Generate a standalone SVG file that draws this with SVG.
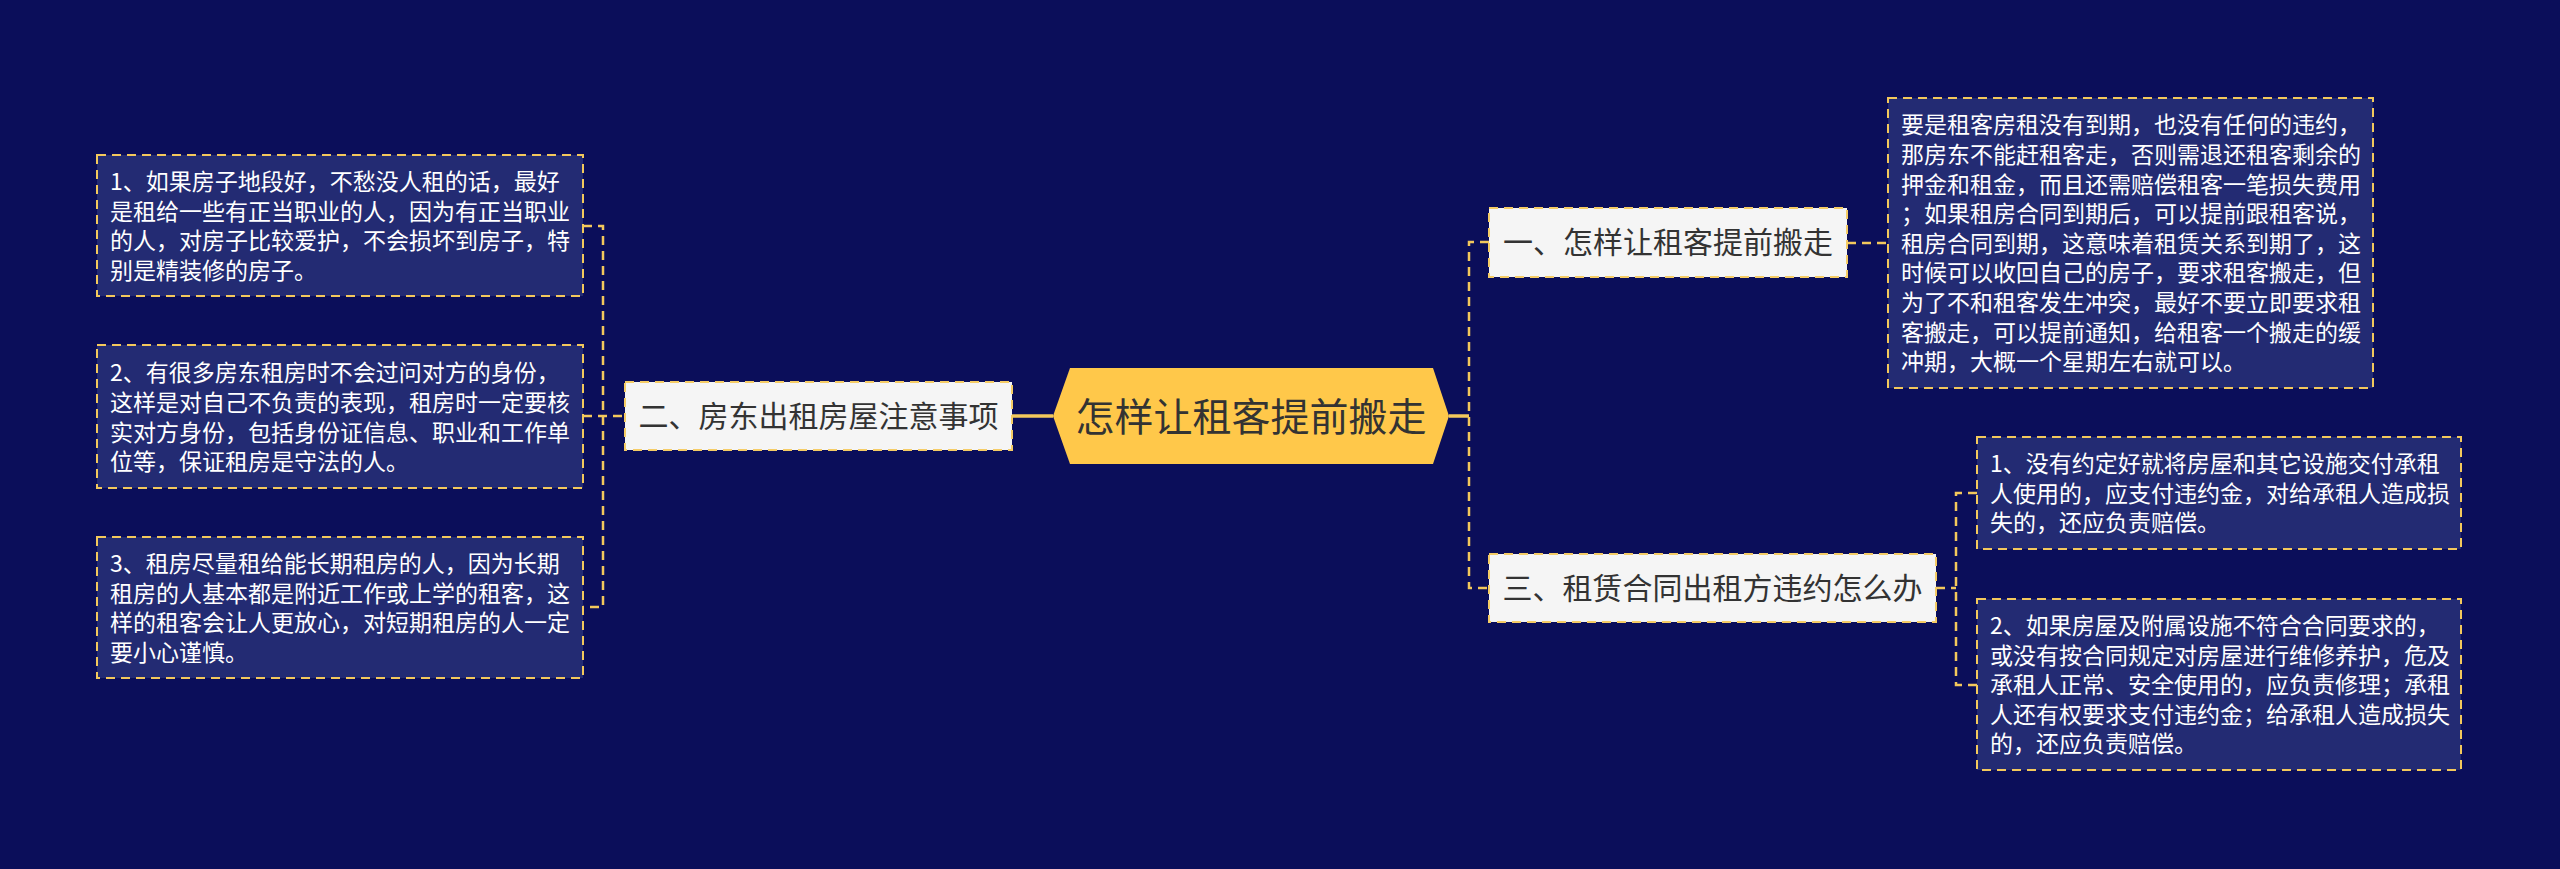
<svg xmlns="http://www.w3.org/2000/svg" width="2560" height="869" viewBox="0 0 2560 869">
<style>
.bg{fill:#0b0e5a}
.tb{fill:#232b73;stroke:#f3c85c;stroke-width:2;stroke-dasharray:9 6}
.tt{font-family:"Noto Sans CJK SC","Noto Sans",sans-serif;font-size:23px;fill:#ffffff}
.br{fill:#f5f5f5;stroke:#f5cc66;stroke-width:2;stroke-dasharray:9 6}
.bt{font-family:"Noto Sans CJK SC","Noto Sans",sans-serif;font-size:30px;fill:#333333;text-anchor:middle}
.mn{fill:#ffc84a}
.mt{font-family:"Noto Sans CJK SC","Noto Sans",sans-serif;font-size:39px;fill:#333333;text-anchor:middle}
.cd{fill:none;stroke:#f3c85c;stroke-width:2.5;stroke-dasharray:9 6}
.cs{fill:none;stroke:#f3c85c;stroke-width:3.5}
</style>
<rect class="bg" x="0" y="0" width="2560" height="869"/>
<g id="connectors">
<path class="cs" d="M1012 416 H1053"/>
<path class="cs" d="M1449 416 H1469"/>
<path class="cd" d="M583 226 H603 V607 H583"/>
<path class="cd" d="M583 416 H625"/>
<path class="cd" d="M1489 242 H1469 V588 H1489"/>
<path class="cd" d="M1847 243 H1888"/>
<path class="cd" d="M1936 588 H1956"/>
<path class="cd" d="M1977 493 H1956 V685 H1977"/>
</g>
<g id="main">
<polygon class="mn" points="1053,416 1070,368 1433,368 1449,416 1433,464 1070,464"/>
<text class="mt" x="1251" y="430.8">怎样让租客提前搬走</text>
</g>
<g id="b2">
<rect class="br" x="625" y="382" width="387" height="68"/>
<text class="bt" x="818.5" y="427.4">二、房东出租房屋注意事项</text>
</g>
<g id="b1">
<rect class="br" x="1489" y="208" width="358" height="69"/>
<text class="bt" x="1668" y="253.4">一、怎样让租客提前搬走</text>
</g>
<g id="b3">
<rect class="br" x="1489" y="554" width="447" height="68"/>
<text class="bt" x="1712.5" y="599.4">三、租赁合同出租方违约怎么办</text>
</g>
<g id="l1">
<rect class="tb" x="97" y="155" width="486" height="141"/>
<text class="tt"><tspan x="110" y="189.9">1、如果房子地段好，不愁没人租的话，最好</tspan><tspan x="110" y="219.5">是租给一些有正当职业的人，因为有正当职业</tspan><tspan x="110" y="249.1">的人，对房子比较爱护，不会损坏到房子，特</tspan><tspan x="110" y="278.7">别是精装修的房子。</tspan></text>
</g>
<g id="l2">
<rect class="tb" x="97" y="345" width="486" height="143"/>
<text class="tt"><tspan x="110" y="381.4">2、有很多房东租房时不会过问对方的身份，</tspan><tspan x="110" y="411">这样是对自己不负责的表现，租房时一定要核</tspan><tspan x="110" y="440.6">实对方身份，包括身份证信息、职业和工作单</tspan><tspan x="110" y="470.2">位等，保证租房是守法的人。</tspan></text>
</g>
<g id="l3">
<rect class="tb" x="97" y="537" width="486" height="141"/>
<text class="tt"><tspan x="110" y="571.9">3、租房尽量租给能长期租房的人，因为长期</tspan><tspan x="110" y="601.5">租房的人基本都是附近工作或上学的租客，这</tspan><tspan x="110" y="631.1">样的租客会让人更放心，对短期租房的人一定</tspan><tspan x="110" y="660.7">要小心谨慎。</tspan></text>
</g>
<g id="r1">
<rect class="tb" x="1888" y="98" width="485" height="290"/>
<text class="tt"><tspan x="1901" y="133.4">要是租客房租没有到期，也没有任何的违约，</tspan><tspan x="1901" y="163">那房东不能赶租客走，否则需退还租客剩余的</tspan><tspan x="1901" y="192.6">押金和租金，而且还需赔偿租客一笔损失费用</tspan><tspan x="1901" y="222.2">；如果租房合同到期后，可以提前跟租客说，</tspan><tspan x="1901" y="251.8">租房合同到期，这意味着租赁关系到期了，这</tspan><tspan x="1901" y="281.4">时候可以收回自己的房子，要求租客搬走，但</tspan><tspan x="1901" y="311">为了不和租客发生冲突，最好不要立即要求租</tspan><tspan x="1901" y="340.6">客搬走，可以提前通知，给租客一个搬走的缓</tspan><tspan x="1901" y="370.2">冲期，大概一个星期左右就可以。</tspan></text>
</g>
<g id="r3a">
<rect class="tb" x="1977" y="437" width="484" height="112"/>
<text class="tt"><tspan x="1990" y="472.1">1、没有约定好就将房屋和其它设施交付承租</tspan><tspan x="1990" y="501.7">人使用的，应支付违约金，对给承租人造成损</tspan><tspan x="1990" y="531.3">失的，还应负责赔偿。</tspan></text>
</g>
<g id="r3b">
<rect class="tb" x="1977" y="599" width="484" height="171"/>
<text class="tt"><tspan x="1990" y="634">2、如果房屋及附属设施不符合合同要求的，</tspan><tspan x="1990" y="663.6">或没有按合同规定对房屋进行维修养护，危及</tspan><tspan x="1990" y="693.2">承租人正常、安全使用的，应负责修理；承租</tspan><tspan x="1990" y="722.8">人还有权要求支付违约金；给承租人造成损失</tspan><tspan x="1990" y="752.4">的，还应负责赔偿。</tspan></text>
</g>
</svg>
